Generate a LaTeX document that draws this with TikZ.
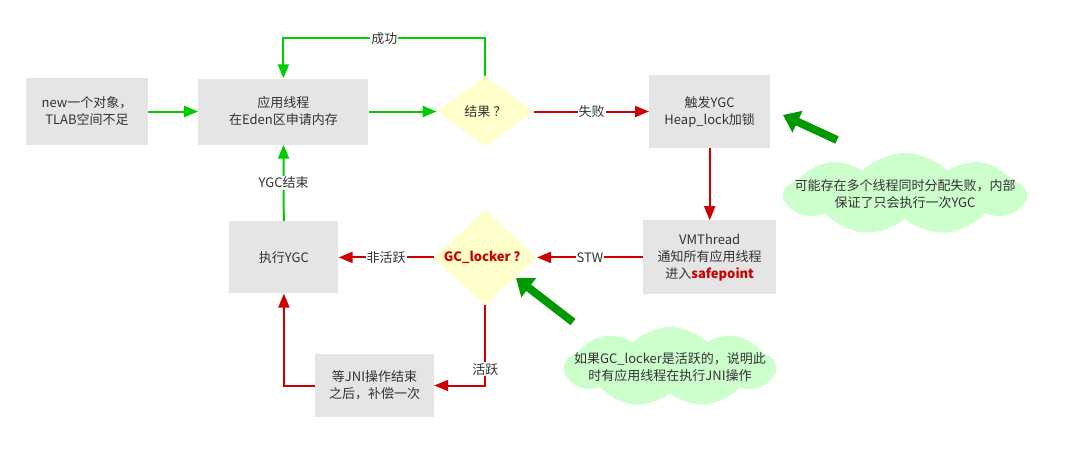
\documentclass[tikz,border=0pt]{standalone}
\usepackage{fontspec}
\setmainfont{Noto Sans CJK SC}
\usetikzlibrary{positioning, shapes.geometric, shapes.symbols, arrows.meta}
\definecolor{boxgray}{HTML}{E5E5E5}
\definecolor{diafill}{HTML}{FFFFCC}
\definecolor{notefill}{HTML}{CCFFCC}
\definecolor{okgreen}{HTML}{00CC00}
\definecolor{failred}{HTML}{CC0000}
\definecolor{hintgreen}{HTML}{009900}
\definecolor{txtgray}{HTML}{333333}

\begin{document}
\begin{tikzpicture}[x=1pt, y=-1pt, node distance=50pt,
    every node/.style={font=\fontsize{13}{17}\selectfont, text=txtgray},
    box/.style={fill=boxgray, align=center, inner sep=0pt},
    chk/.style={diamond, fill=diafill, align=center, inner sep=0pt},
    note/.style={cloud, cloud puffs=9, cloud puff arc=90, cloud ignores aspect, fill=notefill, align=center, inner ysep=0pt},
    lbl/.style={fill=white, inner sep=1pt},
    okline/.style={draw=okgreen, line width=2pt, -{Triangle[length=14pt, width=11pt]}},
    failline/.style={draw=failred, line width=2pt, -{Triangle[length=14pt, width=11pt]}},
    hint/.style={draw=hintgreen, line width=8pt, -{Triangle[length=16pt, width=23pt]}}]
        \useasboundingbox (0,0) rectangle (1065,456);

        \node[box, minimum width=122pt, minimum height=67pt] (newobj) at (87,111.5) {new一个对象，\\TLAB空间不足};
        \node[box, minimum width=170pt, minimum height=66pt] (alloc) [right=50pt of newobj] {应用线程\\在Eden区申请内存};
        \node[chk, minimum width=97pt, minimum height=70pt] (result) [right=68pt of alloc] {结果 ？};
        \node[box, minimum width=121pt, minimum height=73pt] (trigger) [right=115pt of result] {触发YGC\\Heap\_lock加锁};
        \node[box, minimum width=133pt, minimum height=74pt] (vmthread) [below=72pt of trigger] {VMThread\\通知所有应用线程\\进入\textcolor{failred}{\textbf{safepoint}}};
        \node[chk, minimum width=103pt, minimum height=75pt] (locker) [left=106pt of vmthread] {\textcolor{failred}{\textbf{GC\_locker ？}}};
        \node[box, minimum width=109pt, minimum height=72pt] (ygc) [left=95pt of locker] {执行YGC};
        \node[box, minimum width=119pt, minimum height=63pt] (jni) at (374.5,385.5) {等JNI操作结束\\之后，补偿一次};

        \node[note, inner xsep=-22pt, minimum height=82pt] (note1) at (905,194) {可能存在多个线程同时分配失败，内部\\保证了只会执行一次YGC};
        \node[note, inner xsep=-19pt, minimum height=80pt] (note2) at (670,367) {如果GC\_locker是活跃的，说明此\\时有应用线程在执行JNI操作};
        \coordinate (tail1) at (837,140);
        \coordinate (tip1) at (783,115);
        \coordinate (tail2) at (573,322);
        \coordinate (tip2) at (516,278);

        \draw[okline] (newobj) -- (alloc);
        \draw[okline] (alloc) -- (result);
        \draw[okline] (result.north) -- ++(0,-38) -| node[pos=0.25, lbl] {成功} (alloc.north);
        \draw[failline] (result) -- node[lbl] {失败} (trigger);
        \draw[failline] (trigger) -- (vmthread);
        \draw[failline] (vmthread) -- node[lbl] {STW} (locker);
        \draw[failline] (locker) -- node[lbl] {非活跃} (ygc);
        \draw[failline] (locker.south) |- node[pos=0.4, lbl] {活跃} (jni.east);
        \draw[failline] (jni.west) -| (ygc.south);
        \draw[okline] (ygc) -- node[lbl] {YGC结束} (alloc);

        \draw[hint] (tail1) -- (tip1);
        \draw[hint] (tail2) -- (tip2);
    \end{tikzpicture}
\end{document}
